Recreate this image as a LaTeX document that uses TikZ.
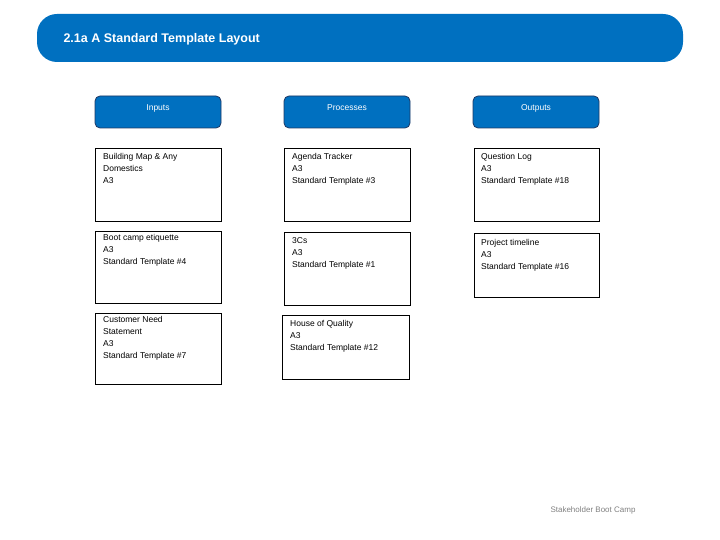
\documentclass[tikz,border=0pt]{standalone}
\usepackage{fontspec}
\setmainfont{Liberation Sans}
\definecolor{tblue}{HTML}{0070C0}
\definecolor{hdrline}{HTML}{1F3864}
\begin{document}
\begin{tikzpicture}[x=1pt,y=-1pt,
  hdr/.style={draw=hdrline,fill=tblue,rounded corners=5pt,line width=0.8pt},
  cell/.style={draw=black,line width=0.7pt},
  txt/.style={anchor=north west,align=left,font=\fontsize{8.5}{12}\selectfont,inner sep=0pt},
  htxt/.style={text=white,font=\fontsize{8.5}{10}\selectfont}]
\useasboundingbox (0,0) rectangle (720,540);
\fill[tblue,rounded corners=20pt] (37,14) rectangle (683,62);
\node[anchor=west,text=white,font=\bfseries\fontsize{12.5}{14}\selectfont] (title) at (60,39) {2.1a A Standard Template Layout};
\draw[hdr] (95,96) rectangle (221,128); \node[htxt] (hin) at (158,108) {Inputs};
\draw[hdr] (284,96) rectangle (410,128); \node[htxt] (hpr) at (347,108) {Processes};
\draw[hdr] (473,96) rectangle (599,128); \node[htxt] (hout) at (536,108) {Outputs};
\draw[cell] (95,148) rectangle (221,221); \node[txt] (a1) at (103,153) {Building Map \& Any\\Domestics\\A3};
\draw[cell] (95,231) rectangle (221,303); \node[txt] (a2) at (103,234) {Boot camp etiquette\\A3\\Standard Template \#4};
\draw[cell] (95,313) rectangle (221,384); \node[txt] (a3) at (103,316) {Customer Need\\Statement\\A3\\Standard Template \#7};
\draw[cell] (284,148) rectangle (410,221); \node[txt] (b1) at (292,153) {Agenda Tracker\\A3\\Standard Template \#3};
\draw[cell] (284,232) rectangle (410,305); \node[txt] (b2) at (292,237) {3Cs\\A3\\Standard Template \#1};
\draw[cell] (282,315) rectangle (409,379); \node[txt] (b3) at (290,320) {House of Quality\\A3\\Standard Template \#12};
\draw[cell] (474,148) rectangle (599,221); \node[txt] (c1) at (481,153) {Question Log\\A3\\Standard Template \#18};
\draw[cell] (474,233) rectangle (599,297); \node[txt] (c2) at (481,239) {Project timeline\\A3\\Standard Template \#16};
\node[text=gray,font=\fontsize{8}{10}\selectfont] (foot) at (593,510) {Stakeholder Boot Camp};
\end{tikzpicture}
\end{document}
